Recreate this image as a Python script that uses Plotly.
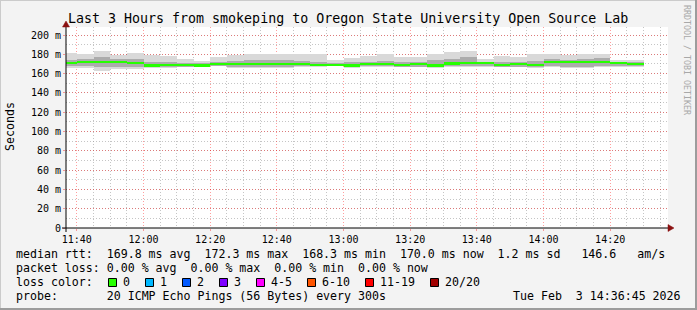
import plotly.graph_objects as go

# ---------------- data ----------------
seg_start = [
    "2026-02-03 11:35:00", "2026-02-03 11:40:00", "2026-02-03 11:45:00", "2026-02-03 11:50:00",
    "2026-02-03 11:55:00", "2026-02-03 12:00:00", "2026-02-03 12:05:00", "2026-02-03 12:10:00",
    "2026-02-03 12:15:00", "2026-02-03 12:20:00", "2026-02-03 12:25:00", "2026-02-03 12:30:00",
    "2026-02-03 12:35:00", "2026-02-03 12:40:00", "2026-02-03 12:45:00", "2026-02-03 12:50:00",
    "2026-02-03 12:55:00", "2026-02-03 13:00:00", "2026-02-03 13:05:00", "2026-02-03 13:10:00",
    "2026-02-03 13:15:00", "2026-02-03 13:20:00", "2026-02-03 13:25:00", "2026-02-03 13:30:00",
    "2026-02-03 13:35:00", "2026-02-03 13:40:00", "2026-02-03 13:45:00", "2026-02-03 13:50:00",
    "2026-02-03 13:55:00", "2026-02-03 14:00:00", "2026-02-03 14:05:00", "2026-02-03 14:10:00",
    "2026-02-03 14:15:00", "2026-02-03 14:20:00", "2026-02-03 14:25:00",
]
median_ms = [170.6, 172.3, 172.3, 171.7, 171.0, 168.3, 169.2, 169.2, 168.3, 169.6,
             169.6, 169.6, 169.6, 169.6, 169.6, 169.2, 169.2, 168.3, 169.6, 169.6,
             168.9, 169.6, 168.3, 170.5, 171.0, 170.6, 168.9, 169.9, 168.9, 172.3,
             171.7, 171.7, 171.7, 170.6, 170.0]
smoke_min = [166.0, 166.0, 163.0, 164.5, 164.5, 165.5, 165.5, 166.5, 166.5, 167.5,
             165.5, 165.5, 165.5, 165.5, 167.0, 167.0, 168.0, 165.5, 167.0, 167.0,
             167.0, 167.0, 165.5, 167.0, 167.0, 167.0, 167.0, 167.0, 165.5, 167.0,
             165.5, 165.5, 167.0, 167.0, 167.0]
smoke_max = [181.0, 180.0, 183.0, 179.0, 181.5, 179.0, 178.0, 175.0, 173.5, 177.0,
             179.0, 180.0, 180.0, 180.0, 180.0, 180.0, 174.0, 176.5, 178.0, 180.0,
             177.0, 177.0, 180.0, 182.0, 183.4, 174.8, 178.0, 177.0, 180.0, 180.0,
             179.0, 180.0, 180.0, 174.0, 174.0]
band_lo = [168, 168, 167, 167, 167, 167, 167, 167, 167, 168,
           167, 167, 167, 167, 168, 168, 168, 167, 168, 168,
           167, 167, 167, 168, 168, 168, 167, 167, 167, 168,
           167, 167, 168, 168, 168]
band_hi = [174, 175, 177, 175, 175, 172, 172, 171, 171, 172,
           173, 174, 174, 174, 173, 172, 171, 172, 172, 173,
           172, 172, 174, 175, 177, 172, 172, 172, 173, 175,
           174, 175, 176, 172, 172]

y_tick_vals = [0, 20, 40, 60, 80, 100, 120, 140, 160, 180, 200]
y_tick_text = ["0", "20 m", "40 m", "60 m", "80 m", "100 m", "120 m", "140 m", "160 m", "180 m", "200 m"]

loss_labels = ["0", "1", "2", "3", "4-5", "6-10", "11-19", "20/20"]
loss_colors = ["#26ff00", "#00b8ff", "#0059ff", "#7e00ff", "#ff00ff", "#ff5500", "#ff0000", "#a10000"]

title_text = "Last 3 Hours from smokeping to Oregon State University Open Source Lab"
row_median = "median rtt:  169.8 ms avg  172.3 ms max  168.3 ms min  170.0 ms now  1.2 ms sd   146.6   am/s"
row_loss = "packet loss: 0.00 % avg  0.00 % max  0.00 % min  0.00 % now"
row_color = "loss color:"
row_probe = "probe:       20 ICMP Echo Pings (56 Bytes) every 300s"
date_text = "Tue Feb  3 14:36:45 2026"

# ---------------- geometry helpers ----------------
FW, FH = 697, 310
L, R, T, B = 66, 668, 27, 228
W, H = R - L, B - T
MONO = "DejaVu Sans Mono"


def px(x):
    return (x - L) / W


def py(y):
    return (B - y) / H


def nb(s):
    return s.replace(" ", "\u00a0")


SEG_MS = 300000
MED_THICK = 2.3

fig = go.Figure()
fig.add_trace(go.Bar(
    x=seg_start, y=[hi - lo for lo, hi in zip(smoke_min, smoke_max)], base=smoke_min,
    width=SEG_MS, offset=0, marker=dict(color="#d9d9d9", line=dict(width=0)), hoverinfo="skip"))
fig.add_trace(go.Bar(
    x=seg_start, y=[hi - lo for lo, hi in zip(band_lo, band_hi)], base=band_lo,
    width=SEG_MS, offset=0, marker=dict(color="#acacac", line=dict(width=0)), hoverinfo="skip"))
fig.add_trace(go.Bar(
    x=seg_start, y=[MED_THICK] * len(median_ms), base=[m - MED_THICK / 2 for m in median_ms],
    width=SEG_MS, offset=0, marker=dict(color=loss_colors[0], line=dict(width=0)), hoverinfo="skip"))

major_grid = "rgba(255,0,0,0.38)"
minor_grid = "rgba(150,150,150,0.55)"

fig.update_layout(
    width=FW, height=FH,
    margin=dict(l=L, r=FW - R, t=T, b=FH - B, pad=0),
    paper_bgcolor="#f3f3f3", plot_bgcolor="#ffffff",
    showlegend=False, barmode="overlay", bargap=0,
    font=dict(family=MONO, color="#000000"),
    xaxis=dict(
        type="date", range=["2026-02-03 11:36:45", "2026-02-03 14:37:21"],
        tick0="2026-02-03 11:40:00", dtick=1200000, tickformat="%H:%M",
        showgrid=True, gridcolor=major_grid, griddash="1px,2px", gridwidth=1,
        ticks="outside", ticklen=2, tickcolor=major_grid,
        tickfont=dict(family=MONO, size=10, color="#000000"),
        showline=False, zeroline=False, fixedrange=True,
        minor=dict(tick0="2026-02-03 11:40:00", dtick=300000, showgrid=True,
                   gridcolor=minor_grid, griddash="1px,2px", gridwidth=1),
    ),
    yaxis=dict(
        range=[0, 208.3], tickvals=y_tick_vals, ticktext=y_tick_text,
        showgrid=True, gridcolor=major_grid, griddash="1px,2px", gridwidth=1,
        ticks="outside", ticklen=2, tickcolor=major_grid,
        tickfont=dict(family=MONO, size=10, color="#000000"),
        showline=False, zeroline=False, fixedrange=True,
        minor=dict(dtick=10, showgrid=True, gridcolor=minor_grid, griddash="1px,2px", gridwidth=1),
    ),
)

ann = []


def text(x, y, s, size, xanchor="left", color="#000000", angle=0):
    ann.append(dict(x=px(x), y=py(y), xref="paper", yref="paper", text=nb(s), showarrow=False,
                    xanchor=xanchor, yanchor="middle", textangle=angle,
                    borderpad=0, borderwidth=0,
                    font=dict(family=MONO, size=size, color=color)))


LEG = 11.6
text(347.5, 19, title_text, 13.3, xanchor="center")
text(10, 127, "Seconds", LEG, xanchor="center", angle=-90)
text(687, 60, "RRDTOOL / TOBI OETIKER", 8.3, xanchor="center", color="#a8a8a8", angle=90)
text(16, 254, row_median, LEG)
text(16, 268, row_loss, LEG)
text(16, 282, row_color, LEG)
text(16, 296, row_probe, LEG)
text(681, 296, date_text, LEG, xanchor="right")

shapes = []
sq_x = 108
for lab, col in zip(loss_labels, loss_colors):
    shapes.append(dict(type="rect", xref="paper", yref="paper",
                       x0=px(sq_x + 0.5), x1=px(sq_x + 8.5), y0=py(278.5), y1=py(286.5),
                       fillcolor=col, line=dict(color="#000000", width=1)))
    text(sq_x + 15, 282, lab, LEG)
    sq_x += 15 + 7 * len(lab) + 15

# axis lines
shapes.append(dict(type="line", xref="paper", yref="paper", x0=px(62), x1=px(669), y0=py(228), y1=py(228),
                   line=dict(color="#000000", width=1)))
shapes.append(dict(type="line", xref="paper", yref="paper", x0=px(66), x1=px(66), y0=py(232), y1=py(25),
                   line=dict(color="#000000", width=1)))
# arrows
arrow_col = "#8b1010"
shapes.append(dict(type="path", xref="paper", yref="paper",
                   path=f"M {px(668)} {py(224.5)} L {px(674)} {py(228)} L {px(668)} {py(231.5)} Z",
                   fillcolor=arrow_col, line=dict(color=arrow_col, width=0.5)))
shapes.append(dict(type="path", xref="paper", yref="paper",
                   path=f"M {px(62.5)} {py(27)} L {px(66)} {py(21)} L {px(69.5)} {py(27)} Z",
                   fillcolor=arrow_col, line=dict(color=arrow_col, width=0.5)))
# frame
shapes.append(dict(type="line", xref="paper", yref="paper", x0=px(0), x1=px(697), y0=py(0.5), y1=py(0.5),
                   line=dict(color="#cbcbcb", width=1)))
shapes.append(dict(type="line", xref="paper", yref="paper", x0=px(0.5), x1=px(0.5), y0=py(0), y1=py(310),
                   line=dict(color="#cbcbcb", width=1)))
shapes.append(dict(type="line", xref="paper", yref="paper", x0=px(696), x1=px(696), y0=py(0), y1=py(310),
                   line=dict(color="#9c9c9c", width=2)))
shapes.append(dict(type="line", xref="paper", yref="paper", x0=px(0), x1=px(697), y0=py(309), y1=py(309),
                   line=dict(color="#9c9c9c", width=2)))

fig.update_layout(annotations=ann, shapes=shapes)
fig.write_html("out.html")
